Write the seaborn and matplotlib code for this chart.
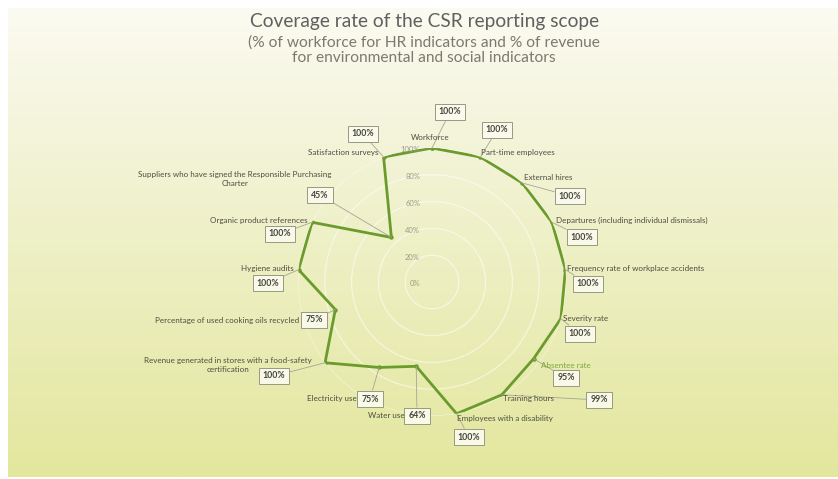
import numpy as np
import pandas as pd
import matplotlib
matplotlib.use("Agg")
import matplotlib.pyplot as plt
from matplotlib.colors import LinearSegmentedColormap
import seaborn as sns

# ---- data -----------------------------------------------------------------
categories = [
    "Workforce",
    "Part-time employees",
    "External hires",
    "Departures (including individual dismissals)",
    "Frequency rate of workplace accidents",
    "Severity rate",
    "Absentee rate",
    "Training hours",
    "Employees with a disability",
    "Water use",
    "Electricity use",
    "Revenue generated in stores with a food-safety\ncertification",
    "Percentage of used cooking oils recycled",
    "Hygiene audits",
    "Organic product references",
    "Suppliers who have signed the Responsible Purchasing\nCharter",
    "Satisfaction surveys",
]
coverage = [100, 100, 100, 100, 100, 100, 95, 99, 100, 64, 75, 100, 75, 100, 100, 45, 100]
radial_ticks = [0, 20, 40, 60, 80, 100]
radial_tick_labels = ["0%", "20%", "40%", "60%", "80%", "100%"]

title = "Coverage rate of the CSR reporting scope"
subtitle = ("(% of workforce for HR indicators and % of revenue\n"
            "for environmental and social indicators")

# ---- label layout (pixel positions, origin top-left) ------------------------
# (text x, first-line y, horizontal alignment, value-box centre x, value-box centre y)
label_layout = [
    (430, 138, "center", 450, 112),
    (481, 152, "left", 497, 130),
    (524, 178, "left", 570, 196),
    (556, 220, "left", 582, 237),
    (567, 268, "left", 588, 284),
    (563, 319, "left", 580, 334),
    (541, 365, "left", 566, 378),
    (503, 398, "left", 599, 400),
    (457, 419, "left", 469, 437),
    (405, 416, "right", 417, 416),
    (357, 398, "right", 370, 399),
    (228, 361, "center", 274, 376),
    (299, 320, "right", 314, 320),
    (294, 269, "right", 268, 283),
    (308, 221, "right", 280, 234),
    (235, 174, "center", 320, 195),
    (378, 152, "right", 363, 134),
]
line_step = 9  # pixels between the lines of a two-line name

# ---- style -----------------------------------------------------------------
sns.set_theme(style="white")
plt.rcParams["font.family"] = ["Lato", "DejaVu Sans"]

W, H = 838, 479
fig = plt.figure(figsize=(W / 100, H / 100), dpi=100, facecolor="white")


def fx(px):
    return px / W


def fy(py):
    return 1 - py / H


# soft vertical gradient panel
bg = fig.add_axes([8 / W, 2 / H, 830 / W, 469 / H])
cmap = LinearSegmentedColormap.from_list(
    "panel", [(0.0, "#fcfbf1"), (0.18, "#f6f6e2"), (0.5, "#eef0c6"), (1.0, "#e3e79d")]
)
grad = np.linspace(0, 1, 256).reshape(-1, 1)
bg.imshow(grad, aspect="auto", cmap=cmap, extent=[0, 1, 0, 1], origin="upper")
bg.axis("off")

# titles
fig.text(fx(425), fy(22), title, ha="center", va="center", fontsize=13.8, color="#606060")
fig.text(fx(424), fy(50), subtitle, ha="center", va="center", fontsize=11.2,
         color="#7a7a72", linespacing=1.1)

# radar axes
cx, cy, R = 432, 282, 134
ax = fig.add_axes([fx(cx - R), fy(cy + R), 2 * R / W, 2 * R / H], projection="polar")
ax.set_facecolor("none")
ax.set_theta_offset(np.pi / 2)
ax.set_theta_direction(-1)

n = len(categories)
df = pd.DataFrame({
    "theta": np.arange(n + 1) * 2 * np.pi / n,
    "coverage": coverage + coverage[:1],
})

line_color = "#6a9b2c"
sns.lineplot(data=df, x="theta", y="coverage", sort=False, estimator=None,
             color=line_color, lw=2.0, marker="o", markersize=3.2,
             markeredgewidth=0, ax=ax)

ax.set_ylim(0, 100)
ax.set_xticks([])
ax.set_yticks(radial_ticks[1:])
ax.set_yticklabels([])
ax.grid(True, color="white", lw=0.9, alpha=0.55)
ax.spines["polar"].set_visible(False)
ax.set_xlabel("")
ax.set_ylabel("")

for r, lab in zip(radial_ticks, radial_tick_labels):
    ax.annotate(lab, xy=(0, r), xytext=(-12, -2), textcoords="offset pixels",
                ha="right", va="center", fontsize=5.5, color="#9c9c88")

# category names and value boxes
for i, (name, val) in enumerate(zip(categories, coverage)):
    tx, ty, ha, bx, by = label_layout[i]
    color = "#7aa83a" if name == "Absentee rate" else "#4d4d40"
    for k, part in enumerate(name.split("\n")):
        fig.text(fx(tx), fy(ty + k * line_step), part, ha=ha, va="center",
                 fontsize=5.8, color=color)
    theta = df["theta"].iloc[i]
    ax.annotate(
        f"{val}%", xy=(theta, val), xycoords="data",
        xytext=(fx(bx), fy(by)), textcoords="figure fraction",
        ha="center", va="center", fontsize=6.3, fontweight="bold", color="#45453a",
        bbox=dict(boxstyle="square,pad=0.45", fc="#fbfbef", ec="#8f8f78", lw=0.7, alpha=0.9),
        arrowprops=dict(arrowstyle="-", color="#a5a596", lw=0.6, shrinkA=0, shrinkB=0),
        zorder=5,
    )

fig.savefig("out.png", dpi=100, facecolor="white")
